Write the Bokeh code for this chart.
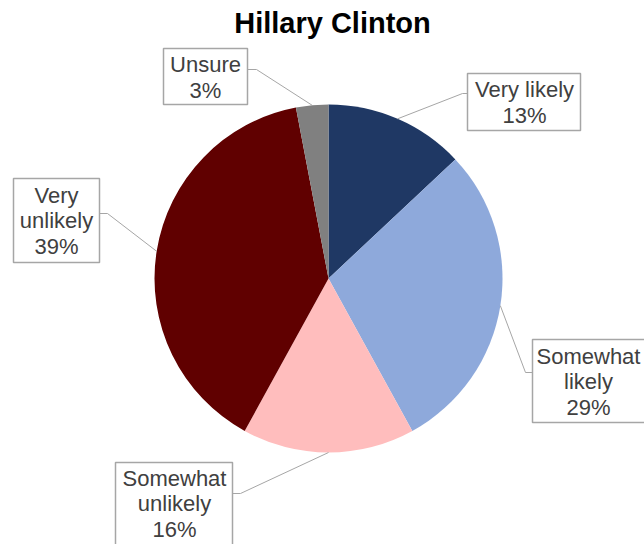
import math
from bokeh.plotting import figure
from bokeh.models import Range1d, ColumnDataSource
from bokeh.core.properties import value
from bokeh.embed import file_html
from bokeh.resources import INLINE

# ---- data ----
title = "Hillary Clinton"
categories = ["Very likely", "Somewhat likely", "Somewhat unlikely", "Very unlikely", "Unsure"]
label_lines = [["Very likely"], ["Somewhat", "likely"], ["Somewhat", "unlikely"], ["Very", "unlikely"], ["Unsure"]]
values = [13, 29, 16, 39, 3]
colors = ["#1F3864", "#8EA9DB", "#FFBDBD", "#600000", "#808080"]

# ---- layout (page pixel coordinates, converted below) ----
W, H = 644, 544
def px(x):
    return x
def py(y):
    return H - y

cx, cy, R = px(328), py(278), 174
# label boxes: (left, top, right, bottom) in page px
boxes = [(467, 73, 580, 130), (532, 339, 660, 422), (115, 462, 232, 560),
         (13, 178, 99, 262), (163, 48, 247, 104)]
# text block centres (page px)
centres = [(524, 102), (588, 381), (174, 503), (56, 220), (205, 77)]
# leader elbows and box attach points (page px)
elbows = [(462, 93), (525, 372), (240, 493), (107, 213), (256, 69)]
attach = [(467, 93), (532, 372), (232, 493), (99, 213), (247, 69)]

p = figure(width=W, height=H, x_range=Range1d(0, W), y_range=Range1d(0, H),
           output_backend="svg", toolbar_location=None, min_border=0)
p.axis.visible = False
p.grid.visible = False
p.outline_line_color = None
p.background_fill_color = "white"
p.border_fill_color = "white"

total = sum(values)
starts, ends, mids = [], [], []
cum = 0
for v in values:
    a0 = math.pi / 2 - 2 * math.pi * cum / total
    cum += v
    a1 = math.pi / 2 - 2 * math.pi * cum / total
    starts.append(a0)
    ends.append(a1)
    mids.append((a0 + a1) / 2)

src = ColumnDataSource(dict(x=[cx] * len(values), y=[cy] * len(values),
                            start=starts, end=ends, color=colors))
p.wedge(x="x", y="y", radius=R, start_angle="start", end_angle="end",
        direction="clock", fill_color="color", line_color=None, source=src)

# leader lines
for m, e, a in zip(mids, elbows, attach):
    sx0 = cx + R * math.cos(m)
    sy0 = cy + R * math.sin(m)
    p.line([sx0, px(e[0]), px(a[0])], [sy0, py(e[1]), py(a[1])],
           line_color="#A6A6A6", line_width=1)

# boxes
p.quad(left=[px(b[0]) for b in boxes], right=[px(b[2]) for b in boxes],
       top=[py(b[1]) for b in boxes], bottom=[py(b[3]) for b in boxes],
       fill_color="white", line_color="#A6A6A6", line_width=1.5)

# label texts
tx, ty, tt = [], [], []
LH = 25.5
for c, lines, v in zip(centres, label_lines, values):
    allines = lines + [f"{v}%"]
    n = len(allines)
    for i, s in enumerate(allines):
        tx.append(px(c[0]))
        ty.append(py(c[1] + (i - (n - 1) / 2) * LH))
        tt.append(s)
p.text(x=tx, y=ty, text=tt, text_align="center", text_baseline="middle",
       text_font=value("Liberation Sans"), text_font_size="22px", text_color="#404040")

# title
p.text(x=[px(332)], y=[py(22)], text=[title], text_align="center", text_baseline="middle",
       text_font=value("Liberation Sans"), text_font_size="29px", text_font_style="bold",
       text_color="#000000")

open("out.html", "w").write(file_html(p, INLINE))
